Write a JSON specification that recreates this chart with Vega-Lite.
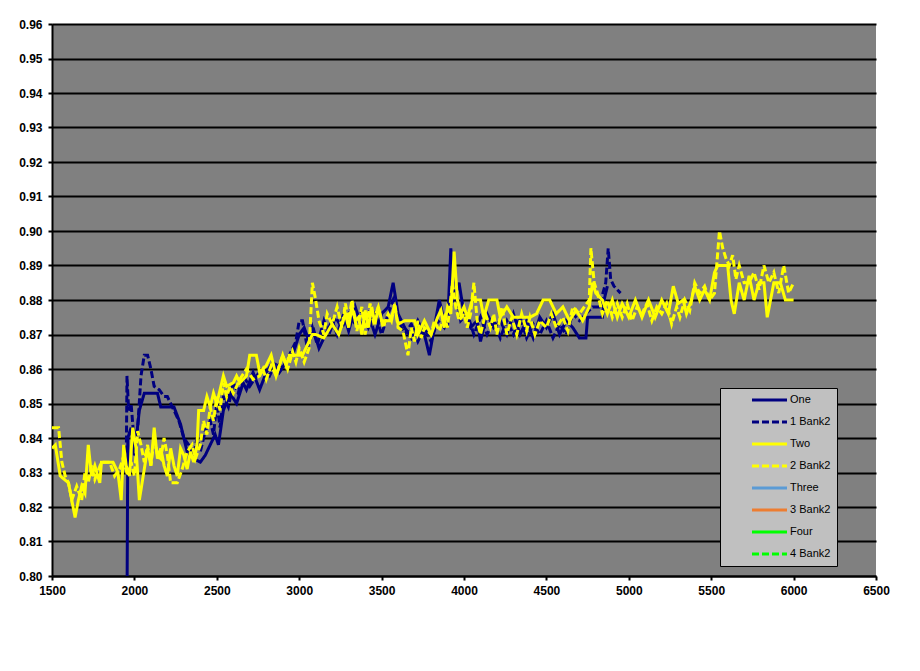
{
"$schema":"https://vega.github.io/schema/vega-lite/v6.json",
"width":824,"height":552,
"autosize":{"type":"none"},
"padding":{"left":52,"top":24,"right":44,"bottom":95},
"background":"#ffffff",
"config":{
 "view":{"fill":"#808080","stroke":null},
 "axis":{"domainColor":"#000000","domainWidth":2,"gridColor":"#000000","gridWidth":2,"gridOpacity":1,"tickColor":"#000000","tickWidth":2,"tickSize":4,"labelFont":"Liberation Sans","labelFontWeight":"bold","labelFontSize":12,"labelColor":"#000000","title":null},
 "legend":{"labelFont":"Liberation Sans","labelFontSize":11,"labelColor":"#000000"}
},
"datasets":{"d":[
{"s":"One","x":1955,"y":0.79},{"s":"One","x":1960,"y":0.840},{"s":"One","x":1980,"y":0.843},{"s":"One","x":2000,"y":0.835},{"s":"One","x":2030,"y":0.848},{"s":"One","x":2060,"y":0.853},{"s":"One","x":2100,"y":0.853},{"s":"One","x":2140,"y":0.853},{"s":"One","x":2160,"y":0.849},{"s":"One","x":2200,"y":0.849},{"s":"One","x":2240,"y":0.849},{"s":"One","x":2280,"y":0.844},{"s":"One","x":2320,"y":0.836},{"s":"One","x":2360,"y":0.834},{"s":"One","x":2400,"y":0.833},{"s":"One","x":2430,"y":0.835},{"s":"One","x":2460,"y":0.838},{"s":"One","x":2490,"y":0.841},{"s":"One","x":2510,"y":0.838},{"s":"One","x":2540,"y":0.848},{"s":"One","x":2580,"y":0.853},{"s":"One","x":2620,"y":0.850},{"s":"One","x":2660,"y":0.856},{"s":"One","x":2680,"y":0.854},{"s":"One","x":2720,"y":0.859},{"s":"One","x":2760,"y":0.854},{"s":"One","x":2800,"y":0.859},{"s":"One","x":2840,"y":0.862},{"s":"One","x":2880,"y":0.859},{"s":"One","x":2920,"y":0.862},{"s":"One","x":2960,"y":0.864},{"s":"One","x":3000,"y":0.870},{"s":"One","x":3030,"y":0.872},{"s":"One","x":3060,"y":0.868},{"s":"One","x":3090,"y":0.871},{"s":"One","x":3120,"y":0.866},{"s":"One","x":3160,"y":0.870},{"s":"One","x":3200,"y":0.874},{"s":"One","x":3230,"y":0.870},{"s":"One","x":3270,"y":0.876},{"s":"One","x":3300,"y":0.871},{"s":"One","x":3340,"y":0.878},{"s":"One","x":3380,"y":0.872},{"s":"One","x":3420,"y":0.876},{"s":"One","x":3460,"y":0.870},{"s":"One","x":3500,"y":0.876},{"s":"One","x":3540,"y":0.878},{"s":"One","x":3570,"y":0.885},{"s":"One","x":3600,"y":0.876},{"s":"One","x":3640,"y":0.872},{"s":"One","x":3680,"y":0.869},{"s":"One","x":3720,"y":0.874},{"s":"One","x":3760,"y":0.870},{"s":"One","x":3790,"y":0.864},{"s":"One","x":3820,"y":0.872},{"s":"One","x":3850,"y":0.880},{"s":"One","x":3870,"y":0.876},{"s":"One","x":3900,"y":0.872},{"s":"One","x":3920,"y":0.895},{"s":"One","x":3940,"y":0.880},{"s":"One","x":3970,"y":0.885},{"s":"One","x":4000,"y":0.876},{"s":"One","x":4040,"y":0.872},{"s":"One","x":4080,"y":0.874},{"s":"One","x":4100,"y":0.868},{"s":"One","x":4140,"y":0.876},{"s":"One","x":4180,"y":0.872},{"s":"One","x":4220,"y":0.874},{"s":"One","x":4260,"y":0.870},{"s":"One","x":4300,"y":0.876},{"s":"One","x":4340,"y":0.870},{"s":"One","x":4380,"y":0.874},{"s":"One","x":4420,"y":0.869},{"s":"One","x":4460,"y":0.875},{"s":"One","x":4500,"y":0.872},{"s":"One","x":4540,"y":0.876},{"s":"One","x":4580,"y":0.870},{"s":"One","x":4620,"y":0.874},{"s":"One","x":4660,"y":0.872},{"s":"One","x":4700,"y":0.869},{"s":"One","x":4740,"y":0.869},{"s":"One","x":4750,"y":0.875},{"s":"One","x":4800,"y":0.875},{"s":"One","x":4840,"y":0.875},{"s":"One","x":4850,"y":0.880},{"s":"One","x":4870,"y":0.884},
{"s":"1 Bank2","x":1950,"y":0.830},{"s":"1 Bank2","x":1955,"y":0.858},{"s":"1 Bank2","x":1965,"y":0.848},{"s":"1 Bank2","x":1980,"y":0.850},{"s":"1 Bank2","x":2000,"y":0.838},{"s":"1 Bank2","x":2020,"y":0.843},{"s":"1 Bank2","x":2040,"y":0.858},{"s":"1 Bank2","x":2060,"y":0.864},{"s":"1 Bank2","x":2080,"y":0.864},{"s":"1 Bank2","x":2100,"y":0.860},{"s":"1 Bank2","x":2120,"y":0.855},{"s":"1 Bank2","x":2150,"y":0.854},{"s":"1 Bank2","x":2180,"y":0.852},{"s":"1 Bank2","x":2200,"y":0.852},{"s":"1 Bank2","x":2240,"y":0.848},{"s":"1 Bank2","x":2270,"y":0.845},{"s":"1 Bank2","x":2300,"y":0.840},{"s":"1 Bank2","x":2330,"y":0.838},{"s":"1 Bank2","x":2360,"y":0.835},{"s":"1 Bank2","x":2380,"y":0.840},{"s":"1 Bank2","x":2400,"y":0.836},{"s":"1 Bank2","x":2430,"y":0.842},{"s":"1 Bank2","x":2460,"y":0.845},{"s":"1 Bank2","x":2480,"y":0.841},{"s":"1 Bank2","x":2500,"y":0.850},{"s":"1 Bank2","x":2520,"y":0.843},{"s":"1 Bank2","x":2540,"y":0.852},{"s":"1 Bank2","x":2570,"y":0.849},{"s":"1 Bank2","x":2600,"y":0.856},{"s":"1 Bank2","x":2630,"y":0.853},{"s":"1 Bank2","x":2660,"y":0.858},{"s":"1 Bank2","x":2700,"y":0.855},{"s":"1 Bank2","x":2740,"y":0.858},{"s":"1 Bank2","x":2780,"y":0.860},{"s":"1 Bank2","x":2820,"y":0.858},{"s":"1 Bank2","x":2860,"y":0.862},{"s":"1 Bank2","x":2900,"y":0.860},{"s":"1 Bank2","x":2940,"y":0.864},{"s":"1 Bank2","x":2980,"y":0.868},{"s":"1 Bank2","x":3000,"y":0.874},{"s":"1 Bank2","x":3020,"y":0.874},{"s":"1 Bank2","x":3050,"y":0.866},{"s":"1 Bank2","x":3080,"y":0.872},{"s":"1 Bank2","x":3110,"y":0.867},{"s":"1 Bank2","x":3150,"y":0.874},{"s":"1 Bank2","x":3180,"y":0.870},{"s":"1 Bank2","x":3220,"y":0.875},{"s":"1 Bank2","x":3260,"y":0.872},{"s":"1 Bank2","x":3300,"y":0.876},{"s":"1 Bank2","x":3340,"y":0.873},{"s":"1 Bank2","x":3380,"y":0.877},{"s":"1 Bank2","x":3420,"y":0.872},{"s":"1 Bank2","x":3460,"y":0.876},{"s":"1 Bank2","x":3500,"y":0.870},{"s":"1 Bank2","x":3540,"y":0.876},{"s":"1 Bank2","x":3570,"y":0.880},{"s":"1 Bank2","x":3600,"y":0.874},{"s":"1 Bank2","x":3640,"y":0.870},{"s":"1 Bank2","x":3680,"y":0.873},{"s":"1 Bank2","x":3720,"y":0.868},{"s":"1 Bank2","x":3760,"y":0.872},{"s":"1 Bank2","x":3800,"y":0.868},{"s":"1 Bank2","x":3840,"y":0.874},{"s":"1 Bank2","x":3880,"y":0.872},{"s":"1 Bank2","x":3920,"y":0.878},{"s":"1 Bank2","x":3950,"y":0.883},{"s":"1 Bank2","x":3980,"y":0.874},{"s":"1 Bank2","x":4020,"y":0.876},{"s":"1 Bank2","x":4060,"y":0.870},{"s":"1 Bank2","x":4100,"y":0.875},{"s":"1 Bank2","x":4140,"y":0.870},{"s":"1 Bank2","x":4180,"y":0.874},{"s":"1 Bank2","x":4220,"y":0.869},{"s":"1 Bank2","x":4260,"y":0.874},{"s":"1 Bank2","x":4300,"y":0.870},{"s":"1 Bank2","x":4340,"y":0.875},{"s":"1 Bank2","x":4380,"y":0.869},{"s":"1 Bank2","x":4420,"y":0.873},{"s":"1 Bank2","x":4460,"y":0.870},{"s":"1 Bank2","x":4500,"y":0.874},{"s":"1 Bank2","x":4540,"y":0.869},{"s":"1 Bank2","x":4580,"y":0.873},{"s":"1 Bank2","x":4620,"y":0.870},{"s":"1 Bank2","x":4660,"y":0.876},{"s":"1 Bank2","x":4700,"y":0.874},{"s":"1 Bank2","x":4740,"y":0.876},{"s":"1 Bank2","x":4780,"y":0.878},{"s":"1 Bank2","x":4820,"y":0.878},{"s":"1 Bank2","x":4860,"y":0.885},{"s":"1 Bank2","x":4875,"y":0.895},{"s":"1 Bank2","x":4890,"y":0.886},{"s":"1 Bank2","x":4910,"y":0.884},{"s":"1 Bank2","x":4930,"y":0.883},{"s":"1 Bank2","x":4950,"y":0.882},
{"s":"Two","x":1500,"y":0.837},{"s":"Two","x":1520,"y":0.838},{"s":"Two","x":1550,"y":0.829},{"s":"Two","x":1600,"y":0.827},{"s":"Two","x":1640,"y":0.817},{"s":"Two","x":1660,"y":0.822},{"s":"Two","x":1680,"y":0.826},{"s":"Two","x":1700,"y":0.824},{"s":"Two","x":1720,"y":0.838},{"s":"Two","x":1740,"y":0.829},{"s":"Two","x":1760,"y":0.832},{"s":"Two","x":1790,"y":0.827},{"s":"Two","x":1800,"y":0.833},{"s":"Two","x":1870,"y":0.833},{"s":"Two","x":1900,"y":0.830},{"s":"Two","x":1920,"y":0.822},{"s":"Two","x":1935,"y":0.838},{"s":"Two","x":1950,"y":0.832},{"s":"Two","x":1970,"y":0.829},{"s":"Two","x":1990,"y":0.843},{"s":"Two","x":2010,"y":0.837},{"s":"Two","x":2030,"y":0.822},{"s":"Two","x":2050,"y":0.828},{"s":"Two","x":2080,"y":0.837},{"s":"Two","x":2100,"y":0.832},{"s":"Two","x":2120,"y":0.843},{"s":"Two","x":2140,"y":0.834},{"s":"Two","x":2160,"y":0.837},{"s":"Two","x":2180,"y":0.832},{"s":"Two","x":2200,"y":0.829},{"s":"Two","x":2220,"y":0.837},{"s":"Two","x":2240,"y":0.832},{"s":"Two","x":2260,"y":0.829},{"s":"Two","x":2280,"y":0.837},{"s":"Two","x":2300,"y":0.835},{"s":"Two","x":2320,"y":0.831},{"s":"Two","x":2340,"y":0.836},{"s":"Two","x":2360,"y":0.833},{"s":"Two","x":2380,"y":0.838},{"s":"Two","x":2390,"y":0.848},{"s":"Two","x":2420,"y":0.848},{"s":"Two","x":2440,"y":0.852},{"s":"Two","x":2460,"y":0.849},{"s":"Two","x":2480,"y":0.853},{"s":"Two","x":2500,"y":0.850},{"s":"Two","x":2520,"y":0.854},{"s":"Two","x":2540,"y":0.858},{"s":"Two","x":2560,"y":0.855},{"s":"Two","x":2600,"y":0.856},{"s":"Two","x":2620,"y":0.858},{"s":"Two","x":2640,"y":0.856},{"s":"Two","x":2680,"y":0.858},{"s":"Two","x":2700,"y":0.864},{"s":"Two","x":2740,"y":0.864},{"s":"Two","x":2760,"y":0.859},{"s":"Two","x":2800,"y":0.861},{"s":"Two","x":2830,"y":0.864},{"s":"Two","x":2860,"y":0.858},{"s":"Two","x":2900,"y":0.864},{"s":"Two","x":2920,"y":0.861},{"s":"Two","x":2940,"y":0.864},{"s":"Two","x":3000,"y":0.864},{"s":"Two","x":3020,"y":0.864},{"s":"Two","x":3050,"y":0.867},{"s":"Two","x":3080,"y":0.870},{"s":"Two","x":3100,"y":0.870},{"s":"Two","x":3150,"y":0.869},{"s":"Two","x":3200,"y":0.873},{"s":"Two","x":3240,"y":0.870},{"s":"Two","x":3280,"y":0.876},{"s":"Two","x":3300,"y":0.872},{"s":"Two","x":3320,"y":0.878},{"s":"Two","x":3340,"y":0.874},{"s":"Two","x":3360,"y":0.875},{"s":"Two","x":3380,"y":0.870},{"s":"Two","x":3400,"y":0.877},{"s":"Two","x":3420,"y":0.872},{"s":"Two","x":3440,"y":0.878},{"s":"Two","x":3460,"y":0.873},{"s":"Two","x":3480,"y":0.878},{"s":"Two","x":3500,"y":0.874},{"s":"Two","x":3550,"y":0.874},{"s":"Two","x":3580,"y":0.878},{"s":"Two","x":3600,"y":0.873},{"s":"Two","x":3640,"y":0.874},{"s":"Two","x":3700,"y":0.874},{"s":"Two","x":3720,"y":0.870},{"s":"Two","x":3760,"y":0.874},{"s":"Two","x":3800,"y":0.870},{"s":"Two","x":3840,"y":0.875},{"s":"Two","x":3860,"y":0.877},{"s":"Two","x":3880,"y":0.872},{"s":"Two","x":3900,"y":0.878},{"s":"Two","x":3920,"y":0.876},{"s":"Two","x":3940,"y":0.894},{"s":"Two","x":3960,"y":0.880},{"s":"Two","x":3980,"y":0.876},{"s":"Two","x":4000,"y":0.878},{"s":"Two","x":4020,"y":0.875},{"s":"Two","x":4050,"y":0.880},{"s":"Two","x":4100,"y":0.880},{"s":"Two","x":4120,"y":0.875},{"s":"Two","x":4150,"y":0.880},{"s":"Two","x":4200,"y":0.880},{"s":"Two","x":4220,"y":0.875},{"s":"Two","x":4260,"y":0.878},{"s":"Two","x":4300,"y":0.875},{"s":"Two","x":4350,"y":0.875},{"s":"Two","x":4400,"y":0.875},{"s":"Two","x":4440,"y":0.876},{"s":"Two","x":4480,"y":0.880},{"s":"Two","x":4520,"y":0.880},{"s":"Two","x":4560,"y":0.876},{"s":"Two","x":4600,"y":0.878},{"s":"Two","x":4640,"y":0.874},{"s":"Two","x":4680,"y":0.877},{"s":"Two","x":4720,"y":0.874},{"s":"Two","x":4760,"y":0.878},{"s":"Two","x":4780,"y":0.885},{"s":"Two","x":4800,"y":0.882},{"s":"Two","x":4840,"y":0.880},{"s":"Two","x":4870,"y":0.876},{"s":"Two","x":4900,"y":0.880},{"s":"Two","x":4930,"y":0.875},{"s":"Two","x":4960,"y":0.879},{"s":"Two","x":5000,"y":0.875},{"s":"Two","x":5040,"y":0.880},{"s":"Two","x":5080,"y":0.875},{"s":"Two","x":5120,"y":0.880},{"s":"Two","x":5160,"y":0.875},{"s":"Two","x":5200,"y":0.880},{"s":"Two","x":5240,"y":0.876},{"s":"Two","x":5270,"y":0.884},{"s":"Two","x":5300,"y":0.879},{"s":"Two","x":5330,"y":0.880},{"s":"Two","x":5350,"y":0.876},{"s":"Two","x":5380,"y":0.880},{"s":"Two","x":5400,"y":0.884},{"s":"Two","x":5430,"y":0.880},{"s":"Two","x":5460,"y":0.883},{"s":"Two","x":5490,"y":0.880},{"s":"Two","x":5520,"y":0.888},{"s":"Two","x":5540,"y":0.890},{"s":"Two","x":5600,"y":0.890},{"s":"Two","x":5620,"y":0.880},{"s":"Two","x":5640,"y":0.876},{"s":"Two","x":5670,"y":0.885},{"s":"Two","x":5700,"y":0.880},{"s":"Two","x":5730,"y":0.887},{"s":"Two","x":5760,"y":0.880},{"s":"Two","x":5790,"y":0.885},{"s":"Two","x":5820,"y":0.885},{"s":"Two","x":5840,"y":0.875},{"s":"Two","x":5880,"y":0.885},{"s":"Two","x":5920,"y":0.885},{"s":"Two","x":5950,"y":0.880},{"s":"Two","x":6000,"y":0.880},
{"s":"2 Bank2","x":1500,"y":0.843},{"s":"2 Bank2","x":1540,"y":0.843},{"s":"2 Bank2","x":1560,"y":0.833},{"s":"2 Bank2","x":1580,"y":0.829},{"s":"2 Bank2","x":1600,"y":0.827},{"s":"2 Bank2","x":1620,"y":0.822},{"s":"2 Bank2","x":1650,"y":0.826},{"s":"2 Bank2","x":1680,"y":0.822},{"s":"2 Bank2","x":1700,"y":0.830},{"s":"2 Bank2","x":1720,"y":0.827},{"s":"2 Bank2","x":1740,"y":0.832},{"s":"2 Bank2","x":1760,"y":0.828},{"s":"2 Bank2","x":1800,"y":0.833},{"s":"2 Bank2","x":1850,"y":0.833},{"s":"2 Bank2","x":1880,"y":0.829},{"s":"2 Bank2","x":1910,"y":0.831},{"s":"2 Bank2","x":1930,"y":0.834},{"s":"2 Bank2","x":1960,"y":0.829},{"s":"2 Bank2","x":1980,"y":0.833},{"s":"2 Bank2","x":2000,"y":0.829},{"s":"2 Bank2","x":2020,"y":0.842},{"s":"2 Bank2","x":2040,"y":0.838},{"s":"2 Bank2","x":2060,"y":0.833},{"s":"2 Bank2","x":2080,"y":0.838},{"s":"2 Bank2","x":2100,"y":0.832},{"s":"2 Bank2","x":2120,"y":0.840},{"s":"2 Bank2","x":2140,"y":0.835},{"s":"2 Bank2","x":2160,"y":0.834},{"s":"2 Bank2","x":2180,"y":0.840},{"s":"2 Bank2","x":2200,"y":0.835},{"s":"2 Bank2","x":2220,"y":0.827},{"s":"2 Bank2","x":2260,"y":0.827},{"s":"2 Bank2","x":2290,"y":0.831},{"s":"2 Bank2","x":2320,"y":0.836},{"s":"2 Bank2","x":2350,"y":0.838},{"s":"2 Bank2","x":2370,"y":0.834},{"s":"2 Bank2","x":2400,"y":0.838},{"s":"2 Bank2","x":2420,"y":0.845},{"s":"2 Bank2","x":2440,"y":0.841},{"s":"2 Bank2","x":2460,"y":0.849},{"s":"2 Bank2","x":2480,"y":0.845},{"s":"2 Bank2","x":2500,"y":0.852},{"s":"2 Bank2","x":2520,"y":0.848},{"s":"2 Bank2","x":2540,"y":0.856},{"s":"2 Bank2","x":2560,"y":0.852},{"s":"2 Bank2","x":2580,"y":0.855},{"s":"2 Bank2","x":2600,"y":0.853},{"s":"2 Bank2","x":2640,"y":0.857},{"s":"2 Bank2","x":2680,"y":0.860},{"s":"2 Bank2","x":2720,"y":0.857},{"s":"2 Bank2","x":2760,"y":0.858},{"s":"2 Bank2","x":2780,"y":0.860},{"s":"2 Bank2","x":2800,"y":0.857},{"s":"2 Bank2","x":2830,"y":0.861},{"s":"2 Bank2","x":2860,"y":0.858},{"s":"2 Bank2","x":2900,"y":0.864},{"s":"2 Bank2","x":2930,"y":0.860},{"s":"2 Bank2","x":2960,"y":0.865},{"s":"2 Bank2","x":2980,"y":0.862},{"s":"2 Bank2","x":3000,"y":0.866},{"s":"2 Bank2","x":3030,"y":0.862},{"s":"2 Bank2","x":3060,"y":0.866},{"s":"2 Bank2","x":3080,"y":0.885},{"s":"2 Bank2","x":3100,"y":0.880},{"s":"2 Bank2","x":3120,"y":0.874},{"s":"2 Bank2","x":3150,"y":0.870},{"s":"2 Bank2","x":3170,"y":0.876},{"s":"2 Bank2","x":3200,"y":0.873},{"s":"2 Bank2","x":3230,"y":0.878},{"s":"2 Bank2","x":3260,"y":0.872},{"s":"2 Bank2","x":3280,"y":0.879},{"s":"2 Bank2","x":3300,"y":0.874},{"s":"2 Bank2","x":3320,"y":0.880},{"s":"2 Bank2","x":3350,"y":0.871},{"s":"2 Bank2","x":3380,"y":0.878},{"s":"2 Bank2","x":3400,"y":0.870},{"s":"2 Bank2","x":3430,"y":0.879},{"s":"2 Bank2","x":3450,"y":0.874},{"s":"2 Bank2","x":3480,"y":0.878},{"s":"2 Bank2","x":3510,"y":0.872},{"s":"2 Bank2","x":3540,"y":0.876},{"s":"2 Bank2","x":3560,"y":0.874},{"s":"2 Bank2","x":3580,"y":0.879},{"s":"2 Bank2","x":3600,"y":0.872},{"s":"2 Bank2","x":3630,"y":0.871},{"s":"2 Bank2","x":3660,"y":0.864},{"s":"2 Bank2","x":3680,"y":0.872},{"s":"2 Bank2","x":3700,"y":0.868},{"s":"2 Bank2","x":3720,"y":0.874},{"s":"2 Bank2","x":3740,"y":0.869},{"s":"2 Bank2","x":3760,"y":0.872},{"s":"2 Bank2","x":3800,"y":0.870},{"s":"2 Bank2","x":3820,"y":0.874},{"s":"2 Bank2","x":3850,"y":0.871},{"s":"2 Bank2","x":3880,"y":0.875},{"s":"2 Bank2","x":3900,"y":0.872},{"s":"2 Bank2","x":3930,"y":0.885},{"s":"2 Bank2","x":3950,"y":0.878},{"s":"2 Bank2","x":3970,"y":0.874},{"s":"2 Bank2","x":4000,"y":0.876},{"s":"2 Bank2","x":4020,"y":0.872},{"s":"2 Bank2","x":4040,"y":0.876},{"s":"2 Bank2","x":4060,"y":0.885},{"s":"2 Bank2","x":4080,"y":0.874},{"s":"2 Bank2","x":4100,"y":0.870},{"s":"2 Bank2","x":4130,"y":0.876},{"s":"2 Bank2","x":4160,"y":0.872},{"s":"2 Bank2","x":4180,"y":0.876},{"s":"2 Bank2","x":4200,"y":0.870},{"s":"2 Bank2","x":4230,"y":0.878},{"s":"2 Bank2","x":4260,"y":0.870},{"s":"2 Bank2","x":4290,"y":0.875},{"s":"2 Bank2","x":4320,"y":0.870},{"s":"2 Bank2","x":4350,"y":0.876},{"s":"2 Bank2","x":4380,"y":0.871},{"s":"2 Bank2","x":4400,"y":0.875},{"s":"2 Bank2","x":4430,"y":0.870},{"s":"2 Bank2","x":4460,"y":0.874},{"s":"2 Bank2","x":4500,"y":0.872},{"s":"2 Bank2","x":4530,"y":0.876},{"s":"2 Bank2","x":4560,"y":0.872},{"s":"2 Bank2","x":4600,"y":0.875},{"s":"2 Bank2","x":4630,"y":0.871},{"s":"2 Bank2","x":4660,"y":0.878},{"s":"2 Bank2","x":4700,"y":0.876},{"s":"2 Bank2","x":4730,"y":0.878},{"s":"2 Bank2","x":4760,"y":0.880},{"s":"2 Bank2","x":4770,"y":0.895},{"s":"2 Bank2","x":4790,"y":0.885},{"s":"2 Bank2","x":4810,"y":0.882},{"s":"2 Bank2","x":4840,"y":0.876},{"s":"2 Bank2","x":4870,"y":0.880},{"s":"2 Bank2","x":4900,"y":0.875},{"s":"2 Bank2","x":4930,"y":0.879},{"s":"2 Bank2","x":4960,"y":0.875},{"s":"2 Bank2","x":4990,"y":0.879},{"s":"2 Bank2","x":5020,"y":0.874},{"s":"2 Bank2","x":5050,"y":0.878},{"s":"2 Bank2","x":5080,"y":0.876},{"s":"2 Bank2","x":5110,"y":0.879},{"s":"2 Bank2","x":5140,"y":0.874},{"s":"2 Bank2","x":5170,"y":0.878},{"s":"2 Bank2","x":5200,"y":0.876},{"s":"2 Bank2","x":5230,"y":0.879},{"s":"2 Bank2","x":5260,"y":0.873},{"s":"2 Bank2","x":5290,"y":0.878},{"s":"2 Bank2","x":5310,"y":0.875},{"s":"2 Bank2","x":5340,"y":0.880},{"s":"2 Bank2","x":5370,"y":0.877},{"s":"2 Bank2","x":5400,"y":0.885},{"s":"2 Bank2","x":5430,"y":0.882},{"s":"2 Bank2","x":5460,"y":0.884},{"s":"2 Bank2","x":5490,"y":0.880},{"s":"2 Bank2","x":5520,"y":0.882},{"s":"2 Bank2","x":5550,"y":0.900},{"s":"2 Bank2","x":5570,"y":0.895},{"s":"2 Bank2","x":5590,"y":0.892},{"s":"2 Bank2","x":5610,"y":0.890},{"s":"2 Bank2","x":5630,"y":0.893},{"s":"2 Bank2","x":5650,"y":0.886},{"s":"2 Bank2","x":5670,"y":0.890},{"s":"2 Bank2","x":5700,"y":0.885},{"s":"2 Bank2","x":5730,"y":0.885},{"s":"2 Bank2","x":5760,"y":0.888},{"s":"2 Bank2","x":5790,"y":0.883},{"s":"2 Bank2","x":5820,"y":0.890},{"s":"2 Bank2","x":5850,"y":0.885},{"s":"2 Bank2","x":5880,"y":0.888},{"s":"2 Bank2","x":5910,"y":0.882},{"s":"2 Bank2","x":5940,"y":0.890},{"s":"2 Bank2","x":5970,"y":0.882},{"s":"2 Bank2","x":6000,"y":0.885}
]},
"data":{"name":"d"},
"encoding":{
 "x":{"field":"x","type":"quantitative","scale":{"domain":[1500,6500],"nice":false,"zero":false},"axis":{"grid":false,"values":[1500,2000,2500,3000,3500,4000,4500,5000,5500,6000,6500],"format":"d","labelPadding":5,"labelFlush":false,"labelOverlap":false}},
 "y":{"field":"y","type":"quantitative","scale":{"domain":[0.8,0.96],"nice":false,"zero":false},"axis":{"grid":true,"values":[0.8,0.81,0.82,0.83,0.84,0.85,0.86,0.87,0.88,0.89,0.9,0.91,0.92,0.93,0.94,0.95,0.96],"format":".2f","labelPadding":6,"labelFlush":false,"labelOverlap":false}},
 "color":{"field":"s","type":"nominal","scale":{"domain":["One","1 Bank2","Two","2 Bank2","Three","3 Bank2","Four","4 Bank2"],"range":["#000080","#000080","#FFFF00","#FFFF00","#5B9BD5","#ED7D31","#00FF00","#00FF00"]},
  "legend":{"title":null,"orient":"none","legendX":668,"legendY":364,"fillColor":"#C0C0C0","strokeColor":"#000000","padding":6,"symbolType":"M-4,0H4","symbolSize":76.5625,"symbolStrokeWidth":3,"symbolOffset":37.5,"labelOffset":14.5,"rowPadding":10,"labelFont":"Liberation Sans","labelFontSize":11}},
 "strokeDash":{"field":"s","type":"nominal","scale":{"domain":["One","1 Bank2","Two","2 Bank2","Three","3 Bank2","Four","4 Bank2"],"range":[[1,0],[7,3],[1,0],[7,3],[1,0],[1,0],[1,0],[7,3]]},"legend":{"title":null}}
},
"layer":[
 {"transform":[{"filter":"datum.s === 'One' || datum.s === '1 Bank2'"}],"mark":{"type":"line","strokeWidth":3,"clip":true}},
 {"transform":[{"filter":"datum.s === 'Two' || datum.s === '2 Bank2'"}],"mark":{"type":"line","strokeWidth":3,"clip":true}}
]
}
